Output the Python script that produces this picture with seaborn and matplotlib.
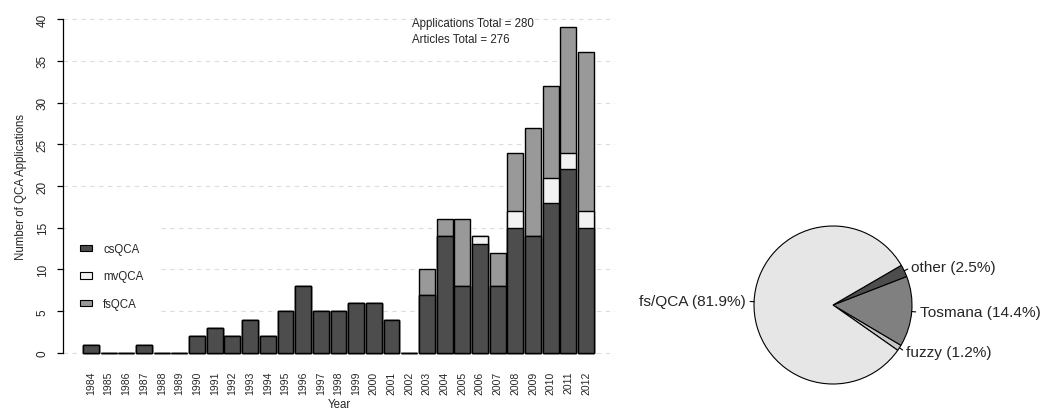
import matplotlib
matplotlib.use("Agg")
import matplotlib.pyplot as plt
from matplotlib.patches import Patch
import numpy as np
import pandas as pd
import seaborn as sns

years = [str(y) for y in range(1984, 2013)]
cs_qca = [1, 0, 0, 1, 0, 0, 2, 3, 2, 4, 2, 5, 8, 5, 5, 6, 6, 4, 0, 7, 14, 8, 13, 8, 15, 14, 18, 22, 15]
mv_qca = [0] * 22 + [1, 0, 2, 0, 3, 2, 2]
fs_qca = [0] * 19 + [3, 2, 8, 0, 4, 7, 13, 11, 15, 19]
series_names = ["csQCA", "mvQCA", "fsQCA"]
series_colors = ["#4d4d4d", "#f2f2f2", "#999999"]

pie_labels = ["fuzzy", "Tosmana", "other", "fs/QCA"]
pie_shares = [1.2, 14.4, 2.5, 81.9]
pie_colors = ["#c6c6c6", "#808080", "#4d4d4d", "#e6e6e6"]

apps_total = 280
articles_total = 276

sns.set_theme(style="white")
plt.rcParams["font.family"] = ["Liberation Sans", "DejaVu Sans"]

W, H = 1043, 410
fig = plt.figure(figsize=(W / 100, H / 100), dpi=100)

# bar panel, placed in pixel terms
ax = fig.add_axes([63 / W, (H - 359) / H, 552 / W, (359 - 15) / H])

df = pd.DataFrame({"year": years, "cs": cs_qca, "mv": mv_qca, "fs": fs_qca})
df["cs_mv"] = df["cs"] + df["mv"]
df["total"] = df["cs_mv"] + df["fs"]

# stacked look: draw cumulative heights, tallest first
for col, color in [("total", series_colors[2]), ("cs_mv", series_colors[1]), ("cs", series_colors[0])]:
    sns.barplot(data=df, x="year", y=col, color=color, saturation=1, errorbar=None,
                edgecolor="black", linewidth=1.0, width=0.9, ax=ax, zorder=2)

ax.set_xlim(-1.584, 29.64)
ax.set_ylim(-0.6, 40.6)
ax.set_yticks(np.arange(0, 41, 5))
ax.yaxis.grid(True, linestyle=(0, (4, 4)), color="#dcdcdc", linewidth=0.8, zorder=0)
ax.set_axisbelow(True)
for side in ["top", "right", "bottom"]:
    ax.spines[side].set_visible(False)
ax.spines["left"].set_bounds(0, 40)
ax.spines["left"].set_color("black")
ax.spines["left"].set_linewidth(0.9)
ax.spines["left"].set_zorder(6)
ax.tick_params(axis="y", left=True, length=4.3, width=0.9, pad=6, labelsize=8.5,
               labelrotation=90, color="black")
for lab in ax.get_yticklabels():
    lab.set_va("center")
ax.tick_params(axis="x", bottom=False, length=0, pad=9.0, labelsize=7.5, labelrotation=90)
ax.set_xlabel("Year", fontsize=8.3, labelpad=3)
ax.set_ylabel("Number of QCA Applications", fontsize=8.3, labelpad=7)

ax.text(0.632, 0.975, f"Applications Total = {apps_total}", transform=ax.transAxes,
        fontsize=8.3, va="center", ha="left")
ax.text(0.632, 0.928, f"Articles Total = {articles_total}", transform=ax.transAxes,
        fontsize=8.3, va="center", ha="left")

handles = [Patch(facecolor=c, edgecolor="black", linewidth=0.8) for c in series_colors]
leg = ax.legend(handles, series_names, loc="center left", bbox_to_anchor=(0.003, 0.237),
                frameon=True, fontsize=8.3, handlelength=1.05, handleheight=0.5,
                handletextpad=1.0, labelspacing=1.35, borderpad=1.3, borderaxespad=0)
leg.get_frame().set_facecolor("white")
leg.get_frame().set_edgecolor("none")
leg.get_frame().set_alpha(1)

# pie panel
R = 79
cx, cy = 833, 306
ax2 = fig.add_axes([(cx - 100) / W, (H - cy - 100) / H, 200 / W, 200 / H])
wedges, _ = ax2.pie(pie_shares, colors=pie_colors, startangle=-35, counterclock=True,
                    wedgeprops=dict(edgecolor="black", linewidth=0.8))
lim = 100 / R
ax2.set_xlim(-lim, lim)
ax2.set_ylim(-lim, lim)
ax2.set_aspect("auto")
ax2.axis("off")

for w, name, share in zip(wedges, pie_labels, pie_shares):
    ang = np.deg2rad((w.theta1 + w.theta2) / 2)
    c, s = np.cos(ang), np.sin(ang)
    ax2.plot([c, 1.05 * c], [s, 1.05 * s], color="black", linewidth=0.8, clip_on=False)
    ax2.text(1.1 * c, 1.1 * s, f"{name} ({share}%)", ha="left" if c > 0 else "right",
             va="center", fontsize=11.1, clip_on=False)

fig.savefig("out.png", dpi=100)
plt.close(fig)
